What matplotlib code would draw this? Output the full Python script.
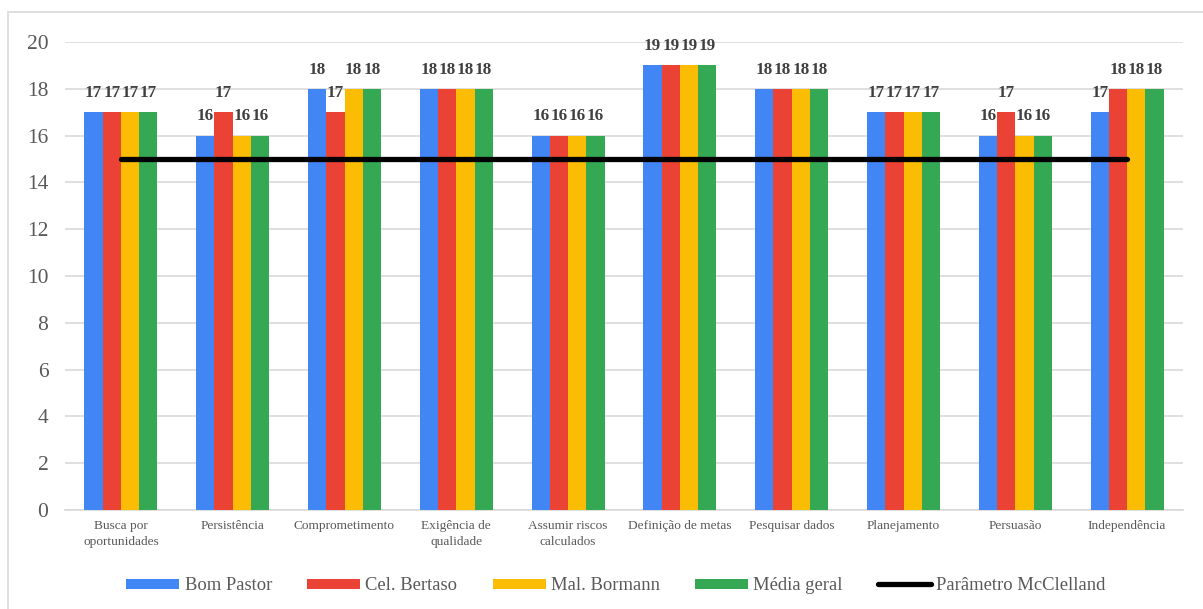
import numpy as np
import matplotlib.pyplot as plt
from matplotlib.patches import Rectangle

plt.rcParams['font.family'] = ['Liberation Serif', 'DejaVu Serif']

categorias = ['Busca por\noportunidades', 'Persistência', 'Comprometimento',
              'Exigência de\nqualidade', 'Assumir riscos\ncalculados',
              'Definição de metas', 'Pesquisar dados', 'Planejamento',
              'Persuasão', 'Independência']

bom_pastor   = [17, 16, 18, 18, 16, 19, 18, 17, 16, 17]
cel_bertaso  = [17, 17, 17, 18, 16, 19, 18, 17, 17, 18]
mal_bormann  = [17, 16, 18, 18, 16, 19, 18, 17, 16, 18]
media_geral  = [17, 16, 18, 18, 16, 19, 18, 17, 16, 18]
parametro    = [15] * 10

series = [('Bom Pastor', bom_pastor, '#4285F4'),
          ('Cel. Bertaso', cel_bertaso, '#EA4335'),
          ('Mal. Bormann', mal_bormann, '#FBBC04'),
          ('Média geral', media_geral, '#34A853')]

fig = plt.figure(figsize=(12.03, 6.09), dpi=100)
ax = fig.add_axes([65/1203, 1 - 510/609, (1183-65)/1203, (510-42)/609])

# moldura do grafico
fig.patches.append(Rectangle((8/1203, -0.1), 1.2, 1 - 12/609 + 0.1,
                             transform=fig.transFigure, fill=False,
                             edgecolor='#d9d9d9', linewidth=1.2))

x = np.arange(len(categorias))
w = 0.163
handles = []
for i, (nome, vals, cor) in enumerate(series):
    pos = x + (i - 1.5) * w
    bars = ax.bar(pos, vals, w, color=cor, label=nome, zorder=2)
    handles.append(bars)
    for b, v in zip(bars, vals):
        ax.annotate(str(v), (b.get_x() + b.get_width()/2, v),
                    xytext=(0, 8), textcoords='offset points',
                    ha='center', va='bottom', fontsize=12.3,
                    fontweight='bold', color='#404040', zorder=4)

linha, = ax.plot(x, parametro, color='black', linewidth=3.8,
                 solid_capstyle='round', label='Parâmetro McClelland', zorder=3)
handles.append(linha)

ax.set_xlim(-0.5, len(categorias) - 0.5)
ax.set_ylim(0, 20)
ax.set_yticks(range(0, 21, 2))
ax.set_xticks(x)
ax.set_xticklabels(categorias, fontsize=9.6, color='#595959', linespacing=1.5)
ax.tick_params(axis='y', labelsize=15.5, labelcolor='#595959', length=0, pad=12)
ax.tick_params(axis='x', length=0, pad=7)
ax.grid(axis='y', color='#d9d9d9', linewidth=1.2, zorder=0)
for s in ['top', 'right', 'left']:
    ax.spines[s].set_visible(False)
ax.spines['bottom'].set_color('#d9d9d9')
ax.spines['bottom'].set_linewidth(1.2)
ax.spines['bottom'].set_zorder(1)

leg = ax.legend(handles=handles, loc='center', bbox_to_anchor=(0.4928, -0.162),
                ncol=5, frameon=False, fontsize=13.4, handlelength=2.85,
                handleheight=0.48, handletextpad=0.27, columnspacing=1.9,
                labelcolor='#595959')

fig.savefig('out.png', dpi=100)
